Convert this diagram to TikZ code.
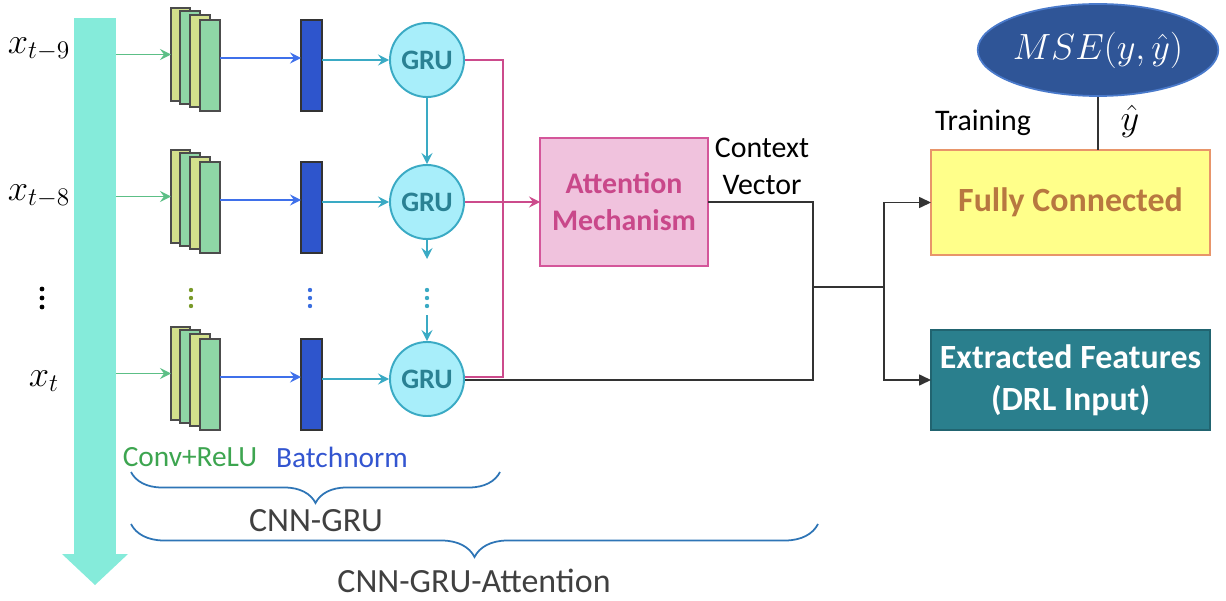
\documentclass[tikz,border=0pt]{standalone}
\usepackage{fontspec}
\setmainfont{Carlito}
\usetikzlibrary{arrows.meta,shapes.geometric,decorations.pathreplacing,calc}
\definecolor{shaftc}{HTML}{85EBDA}
\definecolor{convy}{HTML}{D3E08C}
\definecolor{convg}{HTML}{8FD6A6}
\definecolor{greenarr}{HTML}{5CBF86}
\definecolor{bluearr}{HTML}{3F70EA}
\definecolor{bnfill}{HTML}{2E55CC}
\definecolor{tealarr}{HTML}{3AAAC4}
\definecolor{grufill}{HTML}{A8EEFA}
\definecolor{grutext}{HTML}{2A8193}
\definecolor{mag}{HTML}{CC4B8C}
\definecolor{attfill}{HTML}{F0C2DD}
\definecolor{attdraw}{HTML}{D4569A}
\definecolor{atttext}{HTML}{C9488A}
\definecolor{kline}{HTML}{333333}
\definecolor{fcfill}{HTML}{FFFF8A}
\definecolor{fcdraw}{HTML}{E8956A}
\definecolor{fctext}{HTML}{B87840}
\definecolor{effill}{HTML}{2A7F8D}
\definecolor{efdraw}{HTML}{216470}
\definecolor{msefill}{HTML}{2F5597}
\definecolor{msedraw}{HTML}{4A7ACB}
\definecolor{bracec}{HTML}{2E75B6}
\definecolor{convtext}{HTML}{3DA550}
\definecolor{bntext}{HTML}{3355D0}
\definecolor{graytext}{HTML}{404040}
\definecolor{olivedot}{HTML}{7A9A2A}
\definecolor{bluedot}{HTML}{3B6FE0}
\tikzset{
  wh/.style 2 args={minimum width={#1*0.02cm},minimum height={#2*0.02cm}},
  box/.style={draw,inner sep=0pt,outer sep=0pt},
  cy/.style={box,fill=convy,draw=black!70,line width=0.9pt},
  cg/.style={box,fill=convg,draw=black!70,line width=0.9pt},
  bn/.style={box,fill=bnfill,draw=black!80,line width=0.9pt,wh={21}{91}},
  gru/.style={circle,draw=tealarr,fill=grufill,line width=1.1pt,minimum size={74*0.02cm},inner sep=0pt,
     font=\fontsize{16}{19}\selectfont\bfseries,text=grutext},
  tip/.style={-{Stealth[length=2.2mm,width=2.2mm,inset=0.8mm]}},
  garr/.style={tip,draw=greenarr,fill=greenarr,line width=0.9pt},
  barr/.style={tip,draw=bluearr,fill=bluearr,line width=0.9pt},
  tarr/.style={tip,draw=tealarr,fill=tealarr,line width=0.9pt},
  mline/.style={draw=mag,line width=0.9pt},
  marr/.style={tip,draw=mag,fill=mag,line width=0.9pt},
  kl/.style={draw=kline,line width=0.9pt},
  karr/.style={-{Triangle[length=2.4mm,width=2.2mm]},draw=kline,line width=0.9pt},
  brc/.style={draw=bracec,line width=1pt,decorate},
}
\begin{document}
\begin{tikzpicture}[x=0.02cm,y=-0.02cm]
\useasboundingbox (0,0) rectangle (1226,601);
% input bus arrow
\node[box,draw=none,fill=shaftc,wh={42}{536}] (bus) at (95,286) {};
\fill[shaftc] (bus.south west) -- ++(-12,0) -- (95,585) -- ($(bus.south east)+(12,0)$) -- (bus.south east) -- cycle;
% input labels
\node[font=\fontsize{20.5}{24}\selectfont] (x9) at (39,49) {$x_{t-9}$};
\node[font=\fontsize{20.5}{24}\selectfont] (x8) at (39,196) {$x_{t-8}$};
\node[font=\fontsize{20.5}{24}\selectfont] (xt) at (44,381) {$x_{t}$};
\foreach \yy in {289,298,307} \fill[black] (42,\yy) circle (2.4);
% rows
\foreach \r/\R in {1/55,2/197,3/374}{
  \node[cy,wh={19}{93}] (c\r a) at (180.5,{\R-0.5}) {};
  \node[cg,wh={20}{93}] (c\r b) at (190,{\R+2.5}) {};
  \node[cy,wh={20}{92}] (c\r c) at (200,{\R+6}) {};
  \node[cg,wh={20}{91}] (c\r d) at (210,{\R+10.5}) {};
  \node[bn] (bn\r) at (311.5,{\R+10.5}) {};
  \node[gru] (gru\r) at (427,{\R+5}) {GRU};
  \draw[garr] (bus.east |- c\r a.west) -- (c\r a.west);
  \draw[barr] (c\r d.east |- 0,{\R+3}) -- (bn\r.west |- 0,{\R+3});
  \draw[tarr] (bn\r.east |- gru\r.west) -- (gru\r.west);
}
% vertical dots
\foreach \yy in {290,298,306}{
  \fill[olivedot] (191,\yy) circle (2.2);
  \fill[bluedot] (310,\yy) circle (2.2);
  \fill[tealarr] (427,\yy) circle (2.2);
}
\coordinate (g2e) at (427,259);
\coordinate (g3s) at (427,315);
\draw[tarr] (gru1.south) -- (gru2.north);
\draw[tarr] (gru2.south) -- (g2e);
\draw[tarr] (g3s) -- (gru3.north);
% attention
\node[box,fill=attfill,draw=attdraw,line width=1.1pt,wh={168}{128},align=center,
  font=\fontsize{17}{21}\selectfont\bfseries,text=atttext] (att) at (624,202) {Attention\\Mechanism};
\coordinate (mx) at (503,0);
\draw[mline] (gru1.east) -- (gru1.east -| mx) |- ($(gru3.east)+(0,-2)$);
\draw[marr] (gru2.east) -- (att.west);
\node[align=center,font=\fontsize{17}{21}\selectfont] (ctx) at (762,166) {Context\\Vector};
% merge
\coordinate (j1) at (813,287);
\coordinate (j2) at (884,287);
\draw[kl] (att.east) -| (j1) |- ($(gru3.east)+(0,1)$);
\draw[kl] (j1) -- (j2);
% outputs
\node[box,fill=fcfill,draw=fcdraw,line width=1.1pt,wh={279}{105},
  font=\fontsize{19.3}{23}\selectfont\bfseries,text=fctext] (fc) at (1070.5,202.5) {Fully Connected};
\node[box,fill=effill,draw=efdraw,line width=1.1pt,wh={279}{100},align=center,
  font=\fontsize{19.3}{24}\selectfont\bfseries,text=white] (ef) at (1070.5,380) {Extracted Features\\(DRL Input)};
\draw[karr] (j2) |- (fc.west);
\draw[karr] (j2) |- (ef.west);
\node[ellipse,fill=msefill,draw=msedraw,line width=1pt,inner sep=0pt,wh={174}{92},
  font=\fontsize{19.5}{23}\selectfont,text=white] (mse) at (1098,50) {$MSE(y,\hat{y})$};
\draw[kl] (mse.south) -- (mse.south |- fc.north);
\node[font=\fontsize{17}{21}\selectfont] (train) at (983,123) {Training};
\node[font=\fontsize{20}{23}\selectfont] (yhat) at (1130,121) {$\hat{y}$};
% bottom labels and braces
\node[font=\fontsize{16.7}{20}\selectfont,text=convtext] (convl) at (190,457) {Conv+ReLU};
\node[font=\fontsize{16.7}{20}\selectfont,text=bntext] (bnl) at (342,457) {Batchnorm};
\coordinate (b1l) at (131,472);
\coordinate (b1r) at (500,472);
\coordinate (b2l) at (131,524);
\coordinate (b2r) at (818,524);
\draw[brc,decoration={brace,mirror,amplitude=0.62cm}] (b1l) -- (b1r);
\draw[brc,decoration={brace,mirror,amplitude=0.66cm}] (b2l) -- (b2r);
\node[font=\fontsize{19.3}{23}\selectfont,text=graytext] (cg1) at (316,521) {CNN-GRU};
\node[font=\fontsize{19.3}{23}\selectfont,text=graytext] (cg2) at (474,581) {CNN-GRU-Attention};
\end{tikzpicture}
\end{document}
